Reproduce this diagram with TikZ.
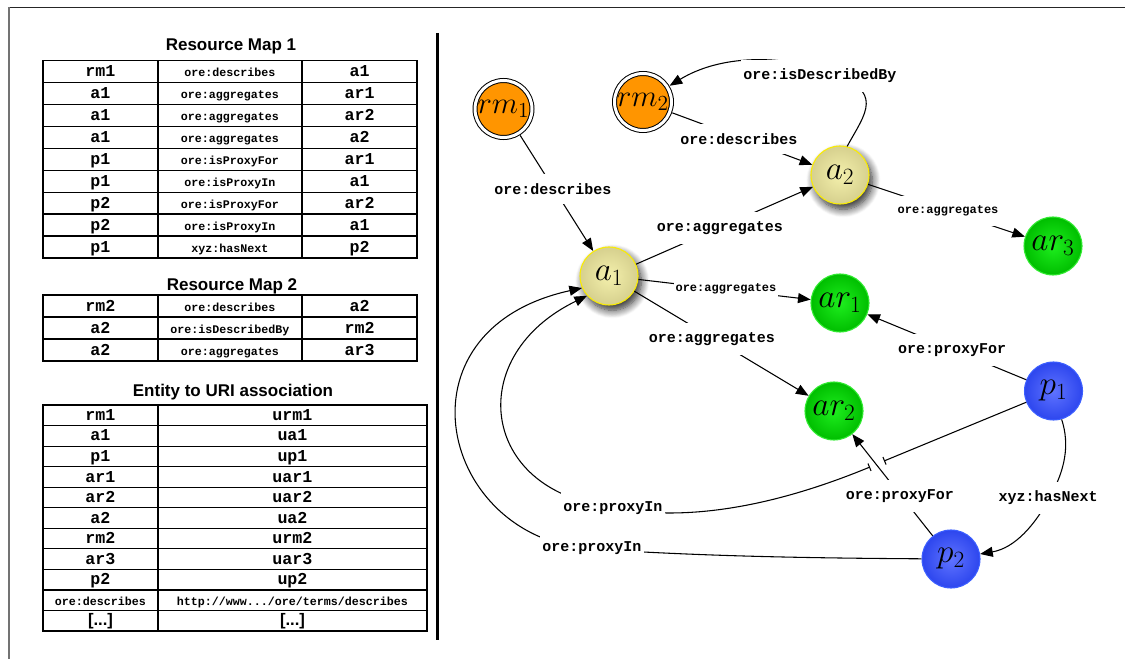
\RequirePackage{fix-cm}
\documentclass[tikz,border=0pt]{standalone}
\usepackage{fontspec}
\newfontfamily\cellfont{Liberation Mono}
\newfontfamily\headfont{Liberation Sans}
\usetikzlibrary{arrows.meta,shadows.blur}

\definecolor{orangeF}{RGB}{255,149,0}
\definecolor{khakiIn}{RGB}{244,240,172}
\definecolor{khakiOut}{RGB}{214,208,142}
\definecolor{yellowB}{RGB}{250,236,0}
\definecolor{greenIn}{RGB}{30,238,30}
\definecolor{greenOut}{RGB}{0,190,0}
\definecolor{greenB}{RGB}{50,235,50}
\definecolor{blueIn}{RGB}{95,115,255}
\definecolor{blueOut}{RGB}{45,70,238}
\definecolor{blueB}{RGB}{60,95,255}

\begin{document}
\begin{tikzpicture}[x=0.75pt, y=-0.75pt,
  tbl/.style={line width=0.9pt},
  bigcell/.style={font=\cellfont\bfseries\fontsize{12.5}{14}\selectfont, anchor=mid, inner sep=0pt},
  smallcell/.style={font=\cellfont\bfseries\fontsize{8.75}{10}\selectfont, anchor=mid, inner sep=0pt},
  dotcell/.style={font=\headfont\bfseries\fontsize{12.5}{14}\selectfont, anchor=mid, inner sep=0pt},
  tabletitle/.style={font=\headfont\bfseries\fontsize{12.75}{15}\selectfont, anchor=base, inner sep=0pt},
  entity/.style={circle, minimum size=43.5pt, inner sep=0pt, line width=0.8pt, font=\fontsize{25}{28}\selectfont},
  resmap/.style={entity, minimum size=42.75pt, fill=orangeF, draw=black, line width=0.75pt, double=white, double distance=2.25pt, outer sep=2pt, font=\fontsize{23}{26}\selectfont},
  aggr/.style={entity, draw=yellowB, shading=radial, inner color=khakiIn, outer color=khakiOut,
    blur shadow={shadow xshift=2.5pt, shadow yshift=-4pt, shadow blur radius=6pt, shadow blur steps=10, shadow opacity=85}},
  aggres/.style={entity, draw=greenB, shading=radial, inner color=greenIn, outer color=greenOut},
  proxy/.style={entity, draw=blueB, shading=radial, inner color=blueIn, outer color=blueOut},
  relarrow/.style={line width=0.8pt, -{Triangle[length=9.5pt,width=7.5pt]}},
  hopline/.style={line width=0.8pt},
  edgelbl/.style={font=\cellfont\bfseries\fontsize{11.25}{13}\selectfont, fill=white, inner xsep=1.5pt, inner ysep=7pt},
  smalllbl/.style={edgelbl, font=\cellfont\bfseries\fontsize{9}{11}\selectfont},
]
\useasboundingbox (0,0) rectangle (1125,659);

% outer frame and divider
\draw[line width=1.1pt, black!85] (8,7.5) -- (1125,7.5);
\draw[line width=1.5pt, black!55] (8.5,7) -- (8.5,659);
\draw[line width=1.8pt] (437.5,33) -- (437.5,640);

% ---------- Resource Map 1 ----------
\node[tabletitle] (title1) at (231,51) {Resource Map 1};
\draw[tbl] (43,60.5) rectangle (417,258);
\foreach \k in {1,...,8} \draw[tbl] (43,{60.5+21.94*\k}) -- (417,{60.5+21.94*\k});
\draw[tbl] (158,60.5) -- (158,258) (302,60.5) -- (302,258);
\foreach \s/\p/\o [count=\i] in {rm1/ore:describes/a1, a1/ore:aggregates/ar1, a1/ore:aggregates/ar2,
  a1/ore:aggregates/a2, p1/ore:isProxyFor/ar1, p1/ore:isProxyIn/a1, p2/ore:isProxyFor/ar2,
  p2/ore:isProxyIn/a1, p1/xyz:hasNext/p2} {
  \node[bigcell] (ma-\i-s) at (100.5,{52+21.94*\i}) {\s};
  \node[smallcell] (ma-\i-p) at (230,{52+21.94*\i}) {\p};
  \node[bigcell] (ma-\i-o) at (359.5,{52+21.94*\i}) {\o};
}

% ---------- Resource Map 2 ----------
\node[tabletitle] (title2) at (232,291) {Resource Map 2};
\draw[tbl] (43,295) rectangle (417,361);
\draw[tbl] (43,317) -- (417,317) (43,339) -- (417,339);
\draw[tbl] (158,295) -- (158,361) (302,295) -- (302,361);
\foreach \s/\p/\o [count=\i] in {rm2/ore:describes/a2, a2/ore:isDescribedBy/rm2, a2/ore:aggregates/ar3} {
  \node[bigcell] (mb-\i-s) at (100.5,{286.5+22*\i}) {\s};
  \node[smallcell] (mb-\i-p) at (230,{286.5+22*\i}) {\p};
  \node[bigcell] (mb-\i-o) at (359.5,{286.5+22*\i}) {\o};
}

% ---------- Entity to URI association ----------
\node[tabletitle] (title3) at (233,397) {Entity to URI association};
\draw[tbl] (43,405) rectangle (427,631);
\foreach \k in {1,...,10} \draw[tbl] (43,{405+20.55*\k}) -- (427,{405+20.55*\k});
\draw[tbl] (158,405) -- (158,631);
\foreach \e/\u [count=\i] in {rm1/urm1, a1/ua1, p1/up1, ar1/uar1, ar2/uar2, a2/ua2, rm2/urm2, ar3/uar3, p2/up2} {
  \node[bigcell] (mc-\i-e) at (100.5,{397+20.55*\i}) {\e};
  \node[bigcell] (mc-\i-u) at (292.5,{397+20.55*\i}) {\u};
}
\node[smallcell] (mc-10-e) at (100.5,602.3) {ore:describes};
\node[smallcell] (mc-10-u) at (292.5,602.3) {http://www.../ore/terms/describes};
\node[dotcell] (mc-11-e) at (100.5,622.5) {[...]};
\node[dotcell] (mc-11-u) at (292.5,622.5) {[...]};

% ---------- graph nodes ----------
\node[resmap] (rm1) at (503.5,109) {$rm_1$};
\node[resmap] (rm2) at (643,102) {$rm_2$};
\node[aggr] (a1) at (609,276) {$a_1$};
\node[aggr] (a2) at (840,175) {$a_2$};
\node[aggres] (ar1) at (840,303) {$ar_1$};
\node[aggres] (ar2) at (834,411) {$ar_2$};
\node[aggres] (ar3) at (1053,246) {$ar_3$};
\node[proxy] (p1) at (1053.5,391) {$p_1$};
\node[proxy] (p2) at (951,559) {$p_2$};

% waypoints of the curved connectors
\coordinate (hopR) at (884,461);
\coordinate (hopL) at (870,467);
\coordinate (pinA) at (600,505);
\coordinate (pinB) at (592,549);
\coordinate (idb) at (830,72);
\coordinate (hn) at (1050,497);

% ---------- connectors ----------
\draw[relarrow] (rm1) -- (a1);
\draw[relarrow] (rm2) -- (a2);
\draw[relarrow] (a2.76) .. controls (866,112) and (885,92) .. (idb)
  .. controls (780,54) and (720,55) .. (rm2);
\draw[relarrow] (a1) -- (a2);
\draw[relarrow] (a1) -- (ar1);
\draw[relarrow] (a1) -- (ar2);
\draw[relarrow] (a2) -- (ar3);
\draw[relarrow] (p1) -- (ar1);
\draw[relarrow] (p2) -- (ar2);
\draw[hopline, -{Bar[width=6pt]}] (p1) -- (hopR);
\draw[hopline, {Bar[width=6pt]}-{Triangle[length=9.5pt,width=7.5pt]}] (hopL)
  .. controls (790,500) and (690,527) .. (pinA)
  .. controls (480,485) and (465,355) .. (a1.222);
\draw[relarrow] (p2) .. controls (800,558) and (700,556) .. (pinB)
  .. controls (440,540) and (390,330) .. (a1.204);
\draw[relarrow] (p1.286) .. controls (1070,445) and (1065,470) .. (hn)
  .. controls (1035,525) and (1015,548) .. (p2);

% ---------- connector labels ----------
\node[edgelbl] (l-desc1) at (553,189) {ore:describes};
\node[edgelbl] (l-desc2) at (739,139) {ore:describes};
\node[edgelbl] (l-isdesc) at (820,76) {ore:isDescribedBy};
\node[edgelbl] (l-agg1) at (720,228) {ore:aggregates};
\node[smalllbl] (l-agg2) at (726,289) {ore:aggregates};
\node[edgelbl] (l-agg3) at (712,339) {ore:aggregates};
\node[smalllbl] (l-agg4) at (948,211) {ore:aggregates};
\node[edgelbl] (l-pf1) at (952,350) {ore:proxyFor};
\node[edgelbl] (l-pf2) at (900,496) {ore:proxyFor};
\node[edgelbl] (l-next) at (1048,498) {xyz:hasNext};
\node[edgelbl] (l-pi1) at (613,508) {ore:proxyIn};
\node[edgelbl] (l-pi2) at (592,548) {ore:proxyIn};
\end{tikzpicture}
\end{document}
